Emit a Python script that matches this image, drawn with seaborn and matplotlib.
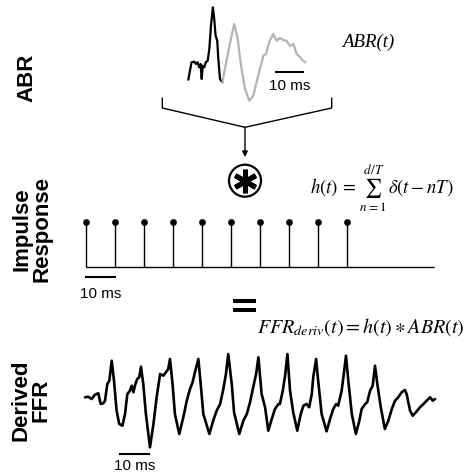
import numpy as np
import pandas as pd
import seaborn as sns
import matplotlib
matplotlib.use('Agg')
import matplotlib.pyplot as plt

# ABR waveform (ms, a.u.) - early (black) and late (gray) parts
abr_early_t = [0.0, 0.6, 1.2, 2.2, 2.8, 3.4, 4.0, 4.5, 4.9, 5.3, 5.9, 6.4, 7.1, 7.7,
               8.3, 9.0, 9.5, 10.0, 10.6, 11.0, 11.6, 12.5]
abr_early_a = [-1.07, -0.17, 0.67, 0.73, 0.5, 0.67, 0.17, 0.5, -1.0, 0.33, 0.17, 0.67,
               0.83, 2.0, 4.33, 6.17, 5.0, 3.33, 2.83, 1.0, -1.0, -1.33]
abr_late_t = [12.5, 13.4, 14.5, 15.6, 16.8, 18.1, 19.3, 20.8, 22.3, 23.8, 25.6, 27.5,
              28.5, 29.6, 31.1, 32.4, 33.6, 34.7, 36.0, 37.2, 38.5, 39.7, 40.9, 41.7, 42.9]
abr_late_a = [-1.33, 0.0, 1.5, 3.0, 4.5, 3.0, 0.33, -2.0, -3.17, -2.67, -0.67, 1.33,
              1.5, 2.67, 3.5, 2.83, 3.1, 2.9, 2.83, 2.3, 2.5, 1.5, 1.2, 0.9, 0.67]

# impulse train, T = 10 ms
stem_t = [0, 10, 20, 30, 40, 50, 60, 70, 80, 90]
stem_h = [1, 1, 1, 1, 1, 1, 1, 1, 1, 1]
impulse_end = 120

# derived FFR (ms, a.u.)
ffr_t = [0.0, 1.1, 2.3, 3.4, 4.6, 5.4, 6.3, 6.9, 7.7, 8.4, 9.2, 10.0, 10.9, 11.8, 12.9,
         13.8, 14.6, 15.5, 16.1, 16.7, 17.2, 18.0, 18.7, 19.3, 20.1, 21.0, 22.4, 23.6,
         24.7, 25.9, 27.0, 27.9, 28.7, 29.3, 30.2, 31.0, 32.5, 33.9, 35.1, 36.2, 37.1,
         37.9, 39.1, 39.9, 40.8, 42.9, 44.2, 45.4, 46.6, 47.7, 48.6, 49.4, 50.6, 51.4,
         53.2, 54.6, 55.8, 56.9, 58.0, 59.0, 59.8, 60.9, 62.1, 63.2, 64.4, 65.5, 66.7,
         67.2, 68.2, 69.0, 69.8, 70.7, 71.8, 73.2, 74.4, 75.3, 76.4, 77.3, 78.2, 78.7,
         79.7, 80.4, 81.6, 83.3, 84.5, 85.6, 86.6, 87.3, 88.5, 89.1, 90.0, 90.8, 92.0,
         93.4, 94.6, 95.4, 96.6, 97.3, 98.3, 99.2, 100.0, 100.8, 102.0, 103.4, 104.6,
         105.8, 106.9, 108.0, 109.2, 110.3, 110.9, 112.1, 113.0, 114.1, 115.5, 116.7,
         117.8, 119.0, 119.9, 120.7]
ffr_a = [0.17, 0.23, 0.0, 0.43, 0.57, -0.5, -0.43, -0.17, 1.5, 1.83, 3.83, 1.83, -1.17,
         -2.5, -2.67, -1.5, 0.5, 0.83, 1.33, 0.67, 1.33, 2.0, 2.17, 3.23, 1.5, -1.5,
         -4.83, -2.5, 0.17, 2.5, 2.33, 2.67, 3.0, 4.0, 1.5, -1.5, -3.5, -1.83, -0.17,
         1.0, 1.67, 2.67, 4.0, 1.5, -1.5, -3.5, -2.17, -1.17, -0.5, 1.0, 2.5, 4.5, 1.5,
         -1.33, -3.5, -2.17, -1.5, -0.33, 1.17, 2.5, 4.17, 0.5, -0.83, -3.17, -2.0, -1.0,
         -0.5, -0.5, 0.83, 2.33, 4.5, 0.83, -1.33, -3.17, -1.5, -0.67, -0.5, -0.83, 0.5,
         2.17, 4.0, 1.83, -1.5, -3.23, -2.0, -1.0, -0.5, -0.67, 0.83, 2.17, 4.33, 1.83,
         -1.5, -3.5, -2.17, -1.0, -0.5, -0.33, 0.83, 1.33, 3.33, 1.5, -0.83, -3.0, -2.17,
         -1.0, -0.17, 0.17, 0.67, 0.9, 0.5, -1.17, -1.67, -1.33, -0.83, -0.5, -0.17,
         0.17, -0.17, 0.0]

W, H = 466, 477
fig = plt.figure(figsize=(W / 100, H / 100), dpi=100)


def px_axes(x0, y0, x1, y1):
    ax = fig.add_axes([x0 / W, 1 - y1 / H, (x1 - x0) / W, (y1 - y0) / H])
    ax.set_axis_off()
    return ax


# overlay in pixel coordinates for the schematic bits
ov = px_axes(0, 0, W, H)
ov.set_xlim(0, W)
ov.set_ylim(H, 0)

sans = 'Liberation Sans'
ov.text(27, 78, 'ABR', rotation=90, ha='center', va='center',
        fontsize=16, fontweight='bold', family=sans)
ov.text(32, 229, 'Impulse\nResponse', rotation=90, ha='center', va='center',
        fontsize=16, fontweight='bold', family=sans, linespacing=0.95)
ov.text(31, 400, 'Derived\nFFR', rotation=90, ha='center', va='center',
        fontsize=16, fontweight='bold', family=sans, linespacing=0.95)

# bracket + arrow
ov.plot([162.3, 162.3, 245, 331.7, 331.7], [99.3, 109, 128.3, 109, 99.3],
        color='k', lw=1.0)
ov.annotate('', xy=(245, 158), xytext=(245, 128.3),
            arrowprops=dict(arrowstyle='-|>', color='k', lw=1.0,
                            mutation_scale=8, shrinkA=0, shrinkB=0))

# convolution symbol
ov.add_patch(plt.Circle((245, 181.7), 16, fill=False, lw=1.6, color='k'))
ov.plot([245], [181.7], marker=(6, 2, 0), markersize=17, mew=3.6, color='k')

# equals sign
ov.plot([233.3, 255.7], [301.5, 301.5], color='k', lw=2.9, solid_capstyle='butt')
ov.plot([233.3, 255.7], [310.5, 310.5], color='k', lw=2.9, solid_capstyle='butt')

# formulas
ov.text(368, 42, 'ABR(t)', ha='center', va='center', fontsize=13.5,
        style='italic', family='Liberation Serif')
ov.text(382, 188, r'$h(t)\,=\,\sum_{n=1}^{d/T}\,\delta(t-nT)$', ha='center',
        va='center', fontsize=13.5, math_fontfamily='stix')
ov.text(361, 327, r'$FFR_{deriv}(t) = h(t) \ast ABR(t)$', ha='center',
        va='center', fontsize=14.5, math_fontfamily='stix')

line_kw = dict(sort=False, estimator=None, solid_joinstyle='round',
               solid_capstyle='round')

# ABR panel
ax_abr = px_axes(180, 0, 320, 110)
sns.lineplot(x=abr_early_t, y=abr_early_a, ax=ax_abr, color='k', lw=1.6, **line_kw)
sns.lineplot(x=abr_late_t, y=abr_late_a, ax=ax_abr, color='#b3b3b3', lw=1.6, **line_kw)
ax_abr.set_xlim(-3.04, 48.24)
ax_abr.set_ylim(-4, 7)
ax_abr.plot([32, 42], [-0.27, -0.27], color='k', lw=1.5)
ax_abr.text(37, -1.6, '10 ms', ha='center', va='center', fontsize=11, family=sans)

# impulse train
ax_imp = px_axes(80, 210, 440, 300)
ax_imp.vlines(stem_t, 0, stem_h, color='k', lw=1.0)
ax_imp.hlines(0, 0, impulse_end, color='k', lw=1.0)
sns.scatterplot(x=stem_t, y=stem_h, ax=ax_imp, color='k', s=20, edgecolor='k')
ax_imp.set_xlim((80 - 86) / 2.9, (440 - 86) / 2.9)
ax_imp.set_ylim(-0.695, 1.278)
ax_imp.plot([0, 10], [-0.219, -0.219], color='k', lw=1.5)
ax_imp.text(5, -0.56, '10 ms', ha='center', va='center', fontsize=11, family=sans)

# derived FFR
ax_ffr = px_axes(80, 340, 440, 470)
sns.lineplot(x=ffr_t, y=ffr_a, ax=ax_ffr, color='k', lw=1.9, **line_kw)
ax_ffr.set_xlim((80 - 85) / 2.9, (440 - 85) / 2.9)
ax_ffr.set_ylim(-7, 6)
ax_ffr.plot([12.07, 22.07], [-5.5, -5.5], color='k', lw=1.5)
ax_ffr.text(17.07, -6.6, '10 ms', ha='center', va='center', fontsize=11, family=sans)

for a in [ax_abr, ax_imp, ax_ffr]:
    a.set_axis_off()

fig.savefig('out.png', dpi=100)
